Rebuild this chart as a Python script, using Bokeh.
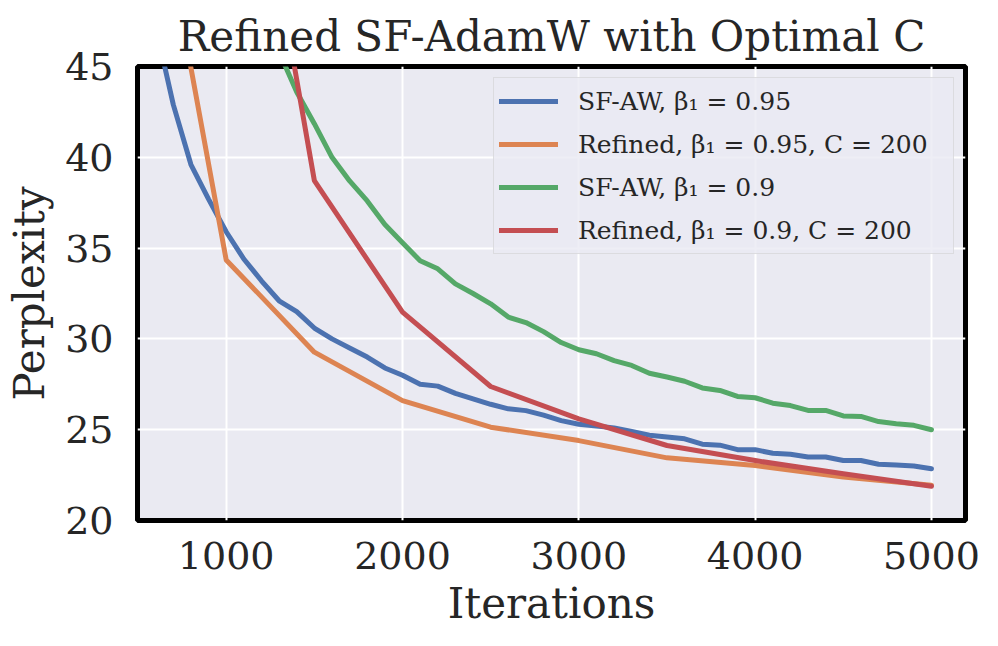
from bokeh.plotting import figure
from bokeh.models import Range1d, Legend, LegendItem, FixedTicker
from bokeh.embed import file_html
from bokeh.resources import INLINE

# ---- data ----
iters_sf95 = list(range(600, 5001, 100))
ppl_sf95 = [47.2, 42.9, 39.6, 37.7, 35.9, 34.4, 33.2, 32.1, 31.5, 30.6,
            30.0, 29.5, 29.0, 28.4, 28.0, 27.5, 27.4, 27.0, 26.7, 26.4,
            26.15, 26.05, 25.8, 25.5, 25.3, 25.2, 25.1, 24.9, 24.7, 24.6,
            24.5, 24.2, 24.15, 23.9, 23.9, 23.7, 23.65, 23.5, 23.5, 23.3,
            23.3, 23.1, 23.05, 23.0, 22.85]

iters_ref95 = [500, 1000, 1500, 2000, 2500, 3000, 3500, 4000, 4500, 5000]
ppl_ref95 = [60.8, 34.35, 29.27, 26.6, 25.14, 24.4, 23.45, 23.03, 22.39, 21.94]

iters_sf90 = list(range(1200, 5001, 100))
ppl_sf90 = [48.0, 45.8, 43.6, 41.85, 40.0, 38.7, 37.6, 36.3, 35.3, 34.3,
            33.86, 33.03, 32.5, 31.93, 31.2, 30.9, 30.4, 29.8, 29.4, 29.18,
            28.8, 28.54, 28.11, 27.9, 27.67, 27.3, 27.16, 26.83, 26.76, 26.46,
            26.33, 26.06, 26.06, 25.76, 25.73, 25.45, 25.33, 25.24, 25.0]

iters_ref90 = [1000, 1500, 2000, 2500, 3000, 3500, 4000, 4500, 5000]
ppl_ref90 = [66.5, 38.72, 31.47, 27.38, 25.6, 24.13, 23.3, 22.57, 21.89]

labels = ["SF-AW, \u03b2\u2081 = 0.95",
          "Refined, \u03b2\u2081 = 0.95, C = 200",
          "SF-AW, \u03b2\u2081 = 0.9",
          "Refined, \u03b2\u2081 = 0.9, C = 200"]
colors = ["#4C72B0", "#DD8452", "#55A868", "#C44E52"]
x_ticks = [1000, 2000, 3000, 4000, 5000]
y_ticks = [20, 25, 30, 35, 40, 45]

FONT = "DejaVu Serif"
TXT = "#262626"

p = figure(width=982, height=630, output_backend="svg", toolbar_location=None,
           x_range=Range1d(497, 5193), y_range=Range1d(20, 45),
           title="Refined SF-AdamW with Optimal C",
           min_border_left=137, min_border_right=17, min_border_top=66, min_border_bottom=110)

p.background_fill_color = "#EAEAF2"
p.border_fill_color = "white"
p.outline_line_color = "black"
p.outline_line_width = 5

p.title.text_font = FONT
p.title.text_font_size = "42px"
p.title.text_font_style = "normal"
p.title.text_color = TXT
p.title.align = "center"
p.title.standoff = 11

p.xaxis.ticker = FixedTicker(ticks=x_ticks)
p.yaxis.ticker = FixedTicker(ticks=y_ticks)
p.xaxis.axis_label = "Iterations"
p.yaxis.axis_label = "Perplexity"
for ax in (p.xaxis, p.yaxis):
    ax.axis_line_color = None
    ax.major_tick_line_color = None
    ax.minor_tick_line_color = None
    ax.major_label_text_font = FONT
    ax.major_label_text_font_size = "38px"
    ax.major_label_text_color = TXT
    ax.axis_label_text_font = FONT
    ax.axis_label_text_font_size = "42px"
    ax.axis_label_text_font_style = "normal"
    ax.axis_label_text_color = TXT
p.xaxis.major_label_standoff = 15
p.yaxis.major_label_standoff = 18
p.xaxis.axis_label_standoff = 7
p.yaxis.axis_label_standoff = 8

p.grid.grid_line_color = "white"
p.grid.grid_line_width = 2

series = [(iters_sf95, ppl_sf95), (iters_ref95, ppl_ref95),
          (iters_sf90, ppl_sf90), (iters_ref90, ppl_ref90)]
items = []
for (xs, ys), c, lab in zip(series, colors, labels):
    r = p.line(xs, ys, line_color=c, line_width=5, line_cap="round", line_join="round")
    items.append(LegendItem(label=lab, renderers=[r]))

legend = Legend(items=items, location="top_right")
legend.label_text_font = FONT
legend.label_text_font_size = "25px"
legend.label_text_color = TXT
legend.glyph_width = 59
legend.glyph_height = 30
legend.label_standoff = 20
legend.label_height = 36
legend.label_width = 370
legend.spacing = 7
legend.padding = 5
legend.margin = 11
legend.border_line_color = "#cccccc"
legend.border_line_width = 1.5
legend.background_fill_color = "#EAEAF2"
legend.background_fill_alpha = 0.8
p.add_layout(legend)

open("out.html", "w").write(file_html(p, INLINE))
